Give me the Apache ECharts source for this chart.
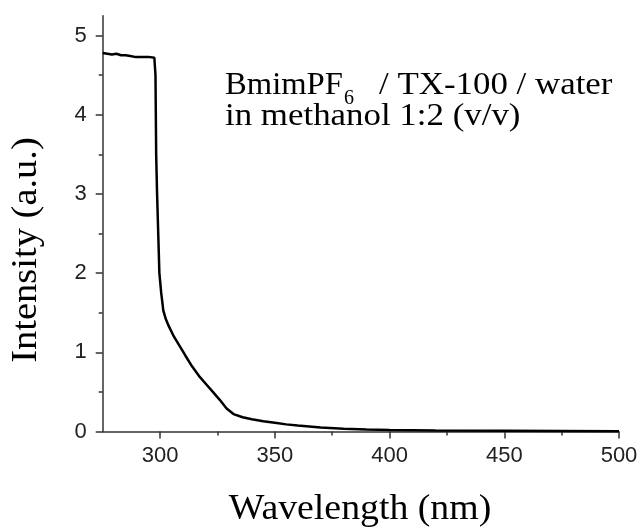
<!DOCTYPE html>
<html>
<head>
<meta charset="utf-8">
<script src="https://cdn.jsdelivr.net/npm/echarts@6/dist/echarts.min.js"></script>
<style>
html,body{margin:0;padding:0;background:#fff;}
#chart{width:643px;height:530px;}
</style>
</head>
<body>
<div id="chart"></div>
<script>
// ---- data ----
var wavelengths = [275, 277, 279, 281, 283, 285, 287, 289, 291, 293, 295, 297.5, 298, 298.3, 298.7, 299.2, 299.7, 300.5, 301.4, 302.5, 303.8, 306, 308.5, 311, 314, 317, 320, 323, 326, 329, 332, 336, 340, 345, 350, 355, 360, 370, 380, 390, 400, 420, 450, 475, 500];
var intensities = [4.78, 4.77, 4.76, 4.77, 4.75, 4.75, 4.74, 4.73, 4.73, 4.73, 4.73, 4.72, 4.5, 3.5, 3.0, 2.5, 2.0, 1.75, 1.53, 1.42, 1.33, 1.2, 1.08, 0.96, 0.82, 0.70, 0.60, 0.50, 0.40, 0.29, 0.22, 0.18, 0.155, 0.13, 0.11, 0.09, 0.075, 0.05, 0.035, 0.025, 0.018, 0.012, 0.008, 0.005, 0.003];
var xTicks = [300, 350, 400, 450, 500];
var xMinorTicks = [325, 375, 425, 475];
var yTicks = [0, 1, 2, 3, 4, 5];
var yMinorTicks = [0.5, 1.5, 2.5, 3.5, 4.5];
var xTitle = 'Wavelength (nm)';
var yTitle = 'Intensity (a.u.)';

var seriesData = wavelengths.map(function (w, i) { return [w, intensities[i]]; });

var axisColor = '#333';
var serif = '"Liberation Serif", "Times New Roman", serif';
function txt(s, x, y, size, opts) {
  opts = opts || {};
  return {
    type: 'text', x: x, y: y, rotation: opts.rotation || 0,
    scaleX: opts.scaleX || 1, scaleY: 1,
    style: {text: s, font: size + 'px ' + serif, fill: '#000',
      textAlign: opts.align || 'left', textVerticalAlign: 'middle'}
  };
}

var chart = echarts.init(document.getElementById('chart'), null, {renderer: 'canvas'});
chart.setOption({
  animation: false,
  backgroundColor: '#fff',
  grid: {left: 102.7, right: 24, top: 15.7, bottom: 98.5, containLabel: false},
  xAxis: [{
    type: 'value', min: 275, max: 500, position: 'bottom',
    axisLine: {lineStyle: {color: axisColor, width: 1.5}},
    axisTick: {customValues: xTicks, length: 7, lineStyle: {color: axisColor, width: 1.5}},
    axisLabel: {customValues: xTicks, fontSize: 22, margin: 13, color: '#222', fontFamily: 'Liberation Sans'},
    splitLine: {show: false}
  }, {
    type: 'value', min: 275, max: 500, position: 'bottom', offset: 0,
    axisLine: {show: false},
    axisTick: {customValues: xMinorTicks, length: 4, lineStyle: {color: axisColor, width: 1.5}},
    axisLabel: {show: false},
    splitLine: {show: false}
  }],
  yAxis: [{
    type: 'value', min: 0, max: 5.25, position: 'left',
    axisLine: {show: true, lineStyle: {color: axisColor, width: 1.5}},
    axisTick: {show: true, customValues: yTicks, length: 7, lineStyle: {color: axisColor, width: 1.5}},
    axisLabel: {customValues: yTicks, fontSize: 22, margin: 16, color: '#222', fontFamily: 'Liberation Sans'},
    splitLine: {show: false}
  }, {
    type: 'value', min: 0, max: 5.25, position: 'left', offset: 0,
    axisLine: {show: false},
    axisTick: {show: true, customValues: yMinorTicks, length: 4, lineStyle: {color: axisColor, width: 1.5}},
    axisLabel: {show: false},
    splitLine: {show: false}
  }],
  series: [{
    type: 'line', xAxisIndex: 0, yAxisIndex: 0,
    data: seriesData, showSymbol: false, smooth: false,
    lineStyle: {color: '#000', width: 2.5}
  }],
  graphic: [
    txt(xTitle, 360, 510, 35, {align: 'center', scaleX: 1.08}),
    txt(yTitle, 27, 250, 35, {align: 'center', scaleX: 1.1, rotation: Math.PI / 2}),
    txt('BmimPF', 225, 86, 32, {scaleX: 1.02}),
    txt('6', 344, 98.5, 20),
    txt('/ TX-100 / water', 379, 86, 32, {scaleX: 1.09}),
    txt('in methanol 1:2 (v/v)', 225, 117, 32, {scaleX: 1.09})
  ]
});
</script>
</body>
</html>
